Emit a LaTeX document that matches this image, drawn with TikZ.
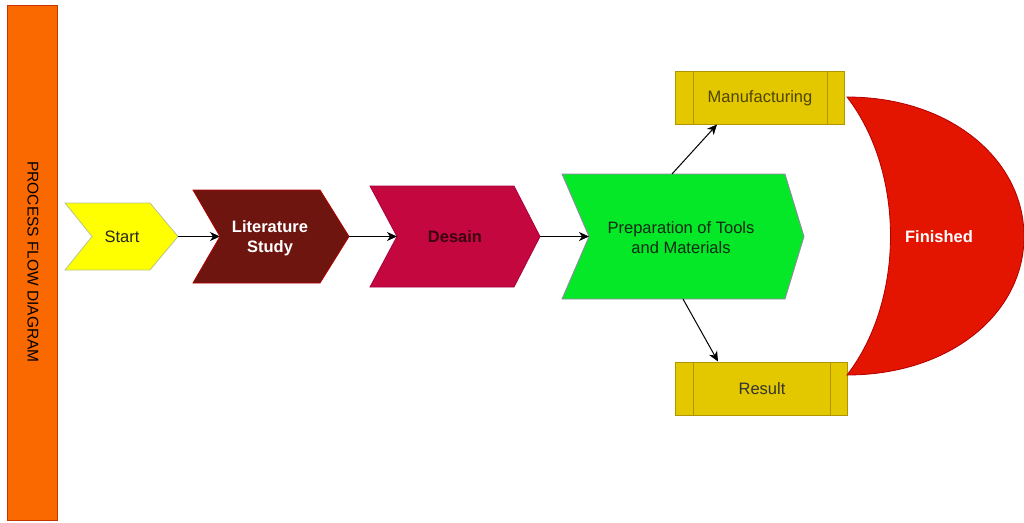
\documentclass[tikz,border=0pt]{standalone}
\usepackage{fontspec}
\setmainfont{Liberation Sans}
\usetikzlibrary{arrows.meta}
\definecolor{barfill}{HTML}{FA6800}
\definecolor{barline}{HTML}{C73500}
\definecolor{startfill}{HTML}{FFFF00}
\definecolor{startline}{HTML}{B8C48C}
\definecolor{litfill}{HTML}{6F1510}
\definecolor{litline}{HTML}{B20000}
\definecolor{desfill}{HTML}{C4073F}
\definecolor{desline}{HTML}{A50040}
\definecolor{destext}{HTML}{3A0012}
\definecolor{prepfill}{HTML}{05E828}
\definecolor{prepline}{HTML}{9A82AA}
\definecolor{preptext}{HTML}{0F2A10}
\definecolor{boxfill}{HTML}{E3C800}
\definecolor{boxline}{HTML}{B09500}
\definecolor{boxtext}{HTML}{4F4500}
\definecolor{finfill}{HTML}{E31400}
\definecolor{finline}{HTML}{B20000}
\tikzset{
  lbl/.style={font=\fontsize{16.5}{20}\selectfont, align=center, inner sep=0pt},
  boldlbl/.style={lbl, font=\fontsize{16.5}{20}\selectfont\bfseries},
  conn/.style={line width=1pt, -{Stealth[length=10pt,width=9pt,inset=3pt]}},
  shp/.style={line width=0.8pt},
}
\begin{document}
\begin{tikzpicture}[x=1pt,y=-1pt]
\useasboundingbox (0,0) rectangle (1024,522);
% left bar
\draw[shp, fill=barfill, draw=barline] (7,5) rectangle (57,520);
\node[lbl, rotate=-90, font=\fontsize{15.5}{19}\selectfont] (title) at (33,262) {PROCESS FLOW DIAGRAM};
% Start
\draw[shp, fill=startfill, draw=startline] (65,203) -- (150,203) -- (178,236.5) -- (150,270) -- (65,270) -- (92,236.5) -- cycle;
\node[lbl, text=black!85] (start) at (122,237) {Start};
\coordinate (startR) at (178,236.5);
% Literature Study
\draw[shp, fill=litfill, draw=litline] (193,190) -- (320,190) -- (349,236.5) -- (320,283) -- (193,283) -- (220,236.5) -- cycle;
\node[boldlbl, text=white] (lit) at (270,238) {Literature\\Study};
\coordinate (litL) at (220,236.5);
\coordinate (litR) at (349,236.5);
% Desain
\draw[shp, fill=desfill, draw=desline] (370,186) -- (514,186) -- (540,236.5) -- (514,287) -- (370,287) -- (397,236.5) -- cycle;
\node[boldlbl, text=destext] (des) at (455,237) {Desain};
\coordinate (desL) at (397,236.5);
\coordinate (desR) at (540,236.5);
% Preparation
\draw[shp, fill=prepfill, draw=prepline] (562,174) -- (785,174) -- (804,236.5) -- (785,299) -- (562,299) -- (589,236.5) -- cycle;
\node[lbl, text=preptext] (prep) at (681,238) {Preparation of Tools\\and Materials};
\coordinate (prepL) at (589,236.5);
\coordinate (prepT) at (672,174);
\coordinate (prepB) at (683,299);
% Manufacturing
\draw[shp, fill=boxfill, draw=boxline] (675,71) rectangle (844,124);
\draw[shp, draw=boxline] (693,71) -- (693,124) (827,71) -- (827,124);
\node[lbl, text=boxtext] (manu) at (760,98) {Manufacturing};
\coordinate (manuB) at (717,124.5);
% Result
\draw[shp, fill=boxfill, draw=boxline] (675,362) rectangle (847,415);
\draw[shp, draw=boxline] (693,362) -- (693,415) (830,362) -- (830,415);
\node[lbl, text=black!80] (res) at (762,388.5) {Result};
\coordinate (resT) at (718,361.5);
% Finished
\draw[shp, fill=finfill, draw=finline] (847,97) .. controls (950,97) and (1024,159.5) .. (1024,236.5)
  .. controls (1024,313.5) and (950,375) .. (847,375)
  .. controls (905,300) and (905,172) .. (847,97) -- cycle;
\node[boldlbl, text=white] (fin) at (939,237) {Finished};
% connectors
\draw[conn] (startR) -- (litL);
\draw[conn] (litR) -- (desL);
\draw[conn] (desR) -- (prepL);
\draw[conn] (prepT) -- (manuB);
\draw[conn] (prepB) -- (resT);
\end{tikzpicture}
\end{document}
